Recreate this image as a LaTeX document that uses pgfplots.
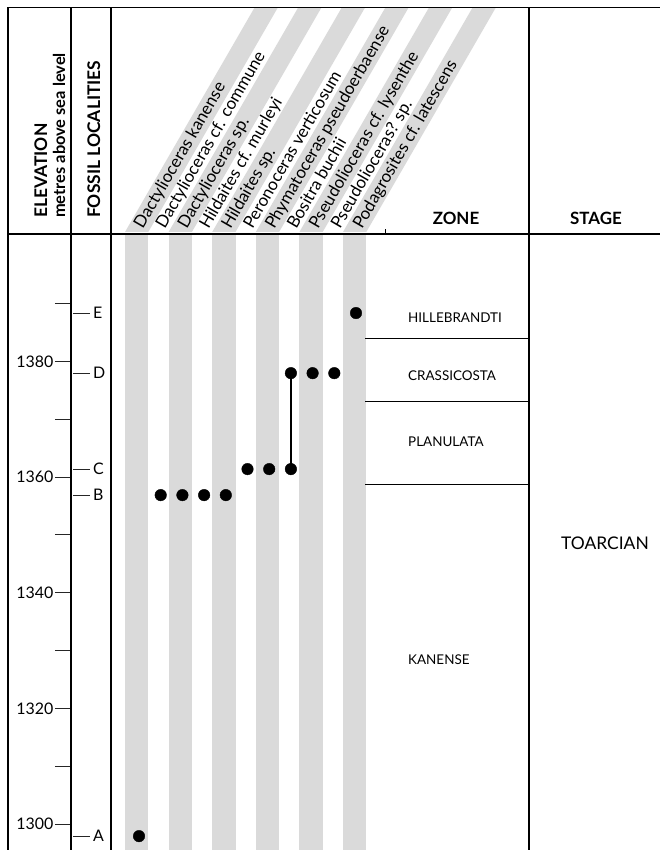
\documentclass[border=0pt]{standalone}
\usepackage{fontspec}
\setmainfont{Lato}
\usepackage{pgfplots}
\pgfplotsset{compat=1.18}
\definecolor{stripe}{gray}{0.855}
\newcommand{\fs}[1]{\fontsize{#1}{#1}\selectfont}

\begin{document}
\begin{tikzpicture}
\useasboundingbox (0,0) rectangle (660bp,850bp);
\clip (0,0) rectangle (660bp,850bp);
% background stripes
\begin{scope}[x=1bp,y=-1bp,shift={(0bp,850bp)}]
  \foreach \L in {125,168.6,212.2,255.8,299.4,343} {
    \fill[stripe] (\L,235) rectangle ({\L+23.3},855);
    \fill[stripe] (\L,232) -- ({\L+23.3},232) -- ({\L+23.3+129.3},8) -- ({\L+129.3},8) -- cycle;
  }
\end{scope}
% data
\begin{axis}[at={(0,0)}, anchor=south west, scale only axis, width=660bp, height=850bp,
  xmin=-5.4055, xmax=25.0092, ymin=1295.502, ymax=1442.561, hide axis, clip=false]
  \addplot[black, line width=1.4bp] coordinates {(8,1361.4) (8,1378.0)};
  \addplot[only marks, mark=*, mark size=5.8pt, black] coordinates {
    (1,1297.9)
    (2,1356.9) (3,1356.9) (4,1356.9) (5,1356.9)
    (6,1361.4) (7,1361.4) (8,1361.4)
    (8,1378.0) (9,1378.0) (10,1378.0)
    (11,1388.4)};
\end{axis}
% elevation ticks
\begin{axis}[at={(71bp,0)}, anchor=south west, scale only axis, width=10bp, height=850bp,
  xmin=0, xmax=1, ymin=1295.502, ymax=1442.561, hide x axis, axis y line*=left,
  y axis line style={draw=none},
  ytick={1300,1320,1340,1360,1380}, minor ytick={1310,1330,1350,1370,1390},
  tick align=outside, major tick length=16bp, minor tick length=16bp,
  tick style={black!85, line width=1bp},
  yticklabel style={font=\fs{16}, inner sep=1.5bp},
  /pgf/number format/assume math mode=true, /pgf/number format/1000 sep={},
  scaled y ticks=false]
\end{axis}
% fossil localities
\begin{axis}[at={(73bp,0)}, anchor=south east, scale only axis, width=10bp, height=850bp,
  xmin=0, xmax=1, ymin=1295.502, ymax=1442.561, hide x axis, axis y line*=right,
  y axis line style={draw=none},
  ytick={1297.9,1356.9,1361.4,1378.0,1388.4}, yticklabels={A,B,C,D,E},
  tick align=outside, major tick length=17bp,
  tick style={black!85, line width=1bp},
  yticklabel style={font=\fs{16}, inner sep=3bp}]
\end{axis}
% frame and texts
\begin{scope}[x=1bp,y=-1bp,shift={(0bp,850bp)}]
  \draw[line width=1.6bp] (8,860) -- (8,7.5) -- (670,7.5);
  \draw[line width=1.6bp] (8,234) -- (670,234);
  \draw[line width=1.4bp] (71,7.5) -- (71,860);
  \draw[line width=1.6bp] (111,7.5) -- (111,860);
  \draw[line width=1.6bp] (529,7.5) -- (529,860);
  \draw[line width=1bp] (365,339) -- (529,339);
  \draw[line width=1bp] (365,401.3) -- (529,401.3);
  \draw[line width=1bp] (365,484.3) -- (529,484.3);
  \draw[line width=0.8bp] (385.5,229.5) -- (385.5,233);
  \node[rotate=90, anchor=base west, inner sep=0, font=\bfseries\fs{17.5}] at (47,218) {ELEVATION};
  \node[rotate=90, anchor=base west, inner sep=0, font=\bfseries\fs{16.5}] at (65,218) {metres above sea level};
  \node[rotate=90, anchor=base west, inner sep=0, font=\bfseries\fs{17.5}] at (100,218) {FOSSIL LOCALITIES};
  \node[anchor=base, inner sep=0, font=\bfseries\fs{17}] at (456,225) {ZONE};
  \node[anchor=base, inner sep=0, font=\bfseries\fs{17}] at (596,225) {STAGE};
  \foreach \i/\t in {1/{Dactylioceras kanense}, 2/{Dactylioceras cf. commune},
      3/{Dactylioceras sp.}, 4/{Hildaites cf. murleyi}, 5/{Hildaites sp.},
      6/{Peronoceras verticosum}, 7/{Phymatoceras pseudoerbaense}, 8/{Bositra buchii},
      9/{Pseudolioceras cf. lysenthe}, 10/{Pseudolioceras? sp.}, 11/{Podagrosites cf. latescens}} {
    \node[rotate=60, anchor=base west, inner sep=0, font=\fs{17}] at ({121+21.9*\i},230) {\t};
  }
  \node[anchor=base west, inner sep=0, font=\fs{13.5}] at (408,322.7) {HILLEBRANDTI};
  \node[anchor=base west, inner sep=0, font=\fs{13.5}] at (408,380.7) {CRASSICOSTA};
  \node[anchor=base west, inner sep=0, font=\fs{13.5}] at (408,447) {PLANULATA};
  \node[anchor=base west, inner sep=0, font=\fs{13.5}] at (408,665) {KANENSE};
  \node[anchor=base, inner sep=0, font=\fs{17.5}] at (605,550) {TOARCIAN};
\end{scope}
\end{tikzpicture}
\end{document}
